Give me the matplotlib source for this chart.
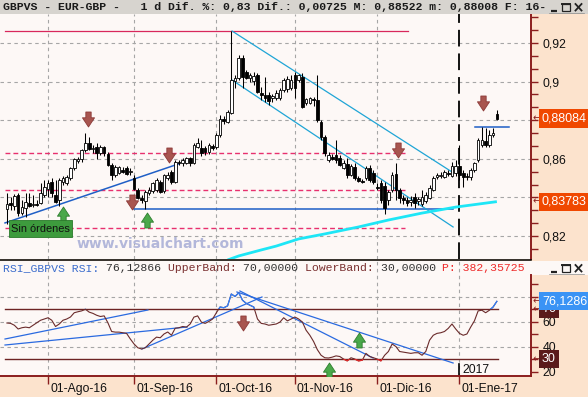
import numpy as np
import matplotlib
matplotlib.use("Agg")
import matplotlib.pyplot as plt
from matplotlib.patches import Rectangle
from matplotlib.path import Path
from matplotlib.ticker import FixedLocator, FuncFormatter, MultipleLocator
from matplotlib.transforms import blended_transform_factory, offset_copy

plt.rcParams['font.family'] = ['Liberation Sans', 'DejaVu Sans']
plt.rcParams['lines.scale_dashes'] = False

# ---------------- data (daily EUR-GBP bars, 15-Jul-2016 .. 16-Jan-2017) ----------------
opens = [.8340, .8371, .8356, .8413, .8319, .8345, .8371, .8361, .8366, .8371,
         .8413, .8444, .8480, .8413, .8387, .8480, .8475, .8501, .8552, .8589,
         .8599, .8646, .8682, .8651, .8661, .8630, .8661, .8625, .8568, .8516,
         .8527, .8542, .8552, .8532, .8501, .8439, .8397, .8381, .8423, .8433,
         .8439, .8480, .8433, .8501, .8532, .8480, .8584, .8578, .8578, .8604,
         .8578, .8661, .8656, .8656, .8635, .8666, .8661, .8723, .8806, .8791,
         .8837, .9003, .9019, .9122, .9050, .9019, .9003, .9034, .8941, .8931,
         .8931, .8915, .8915, .8915, .8957, .8962, .8967, .9034, .9008, .9024,
         .8889, .8889, .8910, .8905, .8791, .8713, .8594, .8609, .8620, .8604,
         .8552, .8573, .8516, .8558, .8501, .8485, .8501, .8552, .8527, .8454,
         .8475, .8459, .8387, .8439, .8521, .8439, .8397, .8387, .8376, .8402,
         .8381, .8366, .8381, .8397, .8439, .8506, .8511, .8506, .8527, .8511,
         .8527, .8563, .8527, .8511, .8506, .8542, .8594, .8672, .8692, .8672,
         .8723, .8832]
highs = [.8423, .8402, .8418, .8423, .8387, .8423, .8423, .8413, .8387, .8475,
         .8490, .8490, .8501, .8490, .8501, .8511, .8516, .8558, .8604, .8609,
         .8651, .8734, .8713, .8672, .8682, .8672, .8666, .8635, .8578, .8568,
         .8563, .8558, .8563, .8552, .8516, .8449, .8413, .8439, .8454, .8480,
         .8501, .8490, .8521, .8532, .8542, .8594, .8594, .8604, .8609, .8609,
         .8682, .8708, .8698, .8666, .8682, .8677, .8734, .8827, .8822, .8853,
         .9262, .9034, .9138, .9138, .9060, .9045, .9050, .9045, .8972, .9024,
         .8946, .8936, .8957, .8967, .9019, .9029, .9034, .9050, .9039, .9045,
         .8915, .8920, .8920, .9034, .8801, .8723, .8635, .8625, .8698, .8620,
         .8594, .8604, .8573, .8578, .8511, .8495, .8563, .8568, .8542, .8475,
         .8490, .8480, .8439, .8532, .8578, .8449, .8413, .8402, .8407, .8423,
         .8402, .8439, .8428, .8464, .8511, .8527, .8532, .8542, .8542, .8584,
         .8594, .8672, .8542, .8527, .8552, .8584, .8708, .8765, .8760, .8749,
         .8760, .88522]
lows = [.8262, .8335, .8335, .8304, .8309, .8299, .8350, .8350, .8356, .8366,
        .8402, .8402, .8402, .8371, .8356, .8464, .8464, .8490, .8542, .8578,
        .8584, .8635, .8646, .8630, .8599, .8620, .8615, .8563, .8490, .8506,
        .8521, .8527, .8516, .8516, .8439, .8392, .8371, .8340, .8413, .8423,
        .8428, .8423, .8423, .8490, .8470, .8475, .8568, .8563, .8573, .8563,
        .8573, .8656, .8615, .8620, .8625, .8646, .8651, .8713, .8780, .8786,
        .8832, .8967, .9008, .8967, .9013, .8998, .8982, .8941, .8905, .8894,
        .8879, .8894, .8905, .8905, .8946, .8946, .8957, .8915, .8998, .8863,
        .8879, .8884, .8874, .8791, .8698, .8615, .8584, .8594, .8578, .8563,
        .8547, .8501, .8511, .8490, .8480, .8475, .8490, .8480, .8470, .8439,
        .8371, .8314, .8361, .8428, .8387, .8371, .8366, .8356, .8356, .8345,
        .8361, .8356, .8371, .8392, .8433, .8495, .8501, .8501, .8511, .8506,
        .8511, .8490, .8454, .8490, .8490, .8532, .8584, .8661, .8661, .8661,
        .8713, .88008]
closes = [.8366, .8361, .8407, .8319, .8350, .8376, .8356, .8366, .8361, .8423,
          .8454, .8475, .8423, .8376, .8490, .8501, .8506, .8552, .8599, .8599,
          .8646, .8682, .8651, .8656, .8630, .8661, .8630, .8568, .8516, .8558,
          .8558, .8532, .8521, .8537, .8444, .8397, .8387, .8428, .8439, .8475,
          .8490, .8428, .8516, .8516, .8480, .8584, .8578, .8594, .8604, .8578,
          .8672, .8682, .8630, .8635, .8672, .8656, .8723, .8806, .8796, .8843,
          .9008, .9019, .9122, .9024, .9019, .9034, .9029, .8946, .8931, .8915,
          .8900, .8925, .8941, .8957, .9008, .9013, .9008, .8967, .9034, .8868,
          .8910, .8915, .8905, .8801, .8713, .8630, .8620, .8599, .8594, .8568,
          .8578, .8516, .8563, .8501, .8485, .8480, .8552, .8490, .8480, .8449,
          .8387, .8345, .8428, .8516, .8439, .8397, .8387, .8371, .8387, .8371,
          .8392, .8402, .8413, .8449, .8501, .8516, .8516, .8532, .8521, .8563,
          .8563, .8516, .8506, .8506, .8542, .8578, .8698, .8698, .8672, .8723,
          .87359, .88084]
rsi = [58.8, 58.5, 57, 54, 55, 55.5, 55, 57, 59, 61,
       62, 63, 61, 56, 58, 61, 62, 63.6, 67, 67.8,
       68.5, 69.8, 67.5, 66.5, 65, 64, 64.5, 59, 52, 51.5,
       51.5, 51, 50.5, 46, 42, 39, 38, 39, 42, 45,
       47.5, 47, 50, 51.6, 49, 54.6, 55, 56, 55.5, 58,
       63.5, 64.5, 59.5, 58.5, 60, 62, 67, 71.6, 71, 72.5,
       82, 80, 83, 77, 74.5, 73, 71.6, 62, 58.5, 58,
       57, 57.5, 58, 59.5, 63, 60.5, 62, 63.6, 62, 59.6,
       53, 49, 44, 37.5, 33, 31, 30.8, 31.5, 32.5, 32,
       30, 28.5, 31, 30, 28.5, 29, 34.5, 32, 31, 30,
       28.5, 33, 36, 42, 40, 36, 35.5, 35, 34.5, 35,
       35, 33, 36, 45, 49, 50.5, 51, 52, 54.5, 58,
       54, 50.5, 49, 50, 55.5, 60.5, 68.5, 69, 67, 69,
       71.6, 76.12866]
# long moving average (thick cyan), read at a few bars
ma_idx = [59, 62, 68, 72, 78, 85, 94, 102, 111, 120, 131]
ma_val = [0.8076, 0.8097, 0.8128, 0.8148, 0.8185, 0.8211, 0.8247, 0.8283, 0.8319, 0.8350, 0.83783]

month_idx = [11, 34, 56, 77, 99, 121]
month_labels = ['01-Ago-16', '01-Sep-16', '01-Oct-16', '01-Nov-16', '01-Dic-16', '01-Ene-17']
year_idx = 121
year_label = '2017'
price_ticks = [0.82, 0.84, 0.86, 0.88, 0.90, 0.92]
rsi_ticks = [20, 40, 60, 80]
rsi_minor = [30, 50, 70, 90]
rsi_grid = [40, 60, 80]
upper_band, lower_band = 70, 30

# user drawn objects on the price chart (bar index, price)
top_line_x, top_line_y = [-0.5, 107.2], [0.9262, 0.9262]
pink_x = [-0.5, 106.4]
pink_levels = [0.8630, 0.8439, 0.8242]
trend_up_x, trend_up_y = [-0.5, 45.8], [0.8268, 0.8573]
support_x, support_y = [34, 119.3], [0.8340, 0.8340]
resist_x, resist_y = [125.2, 134.3], [0.8765, 0.8765]
chan_up_x, chan_up_y = [60.2, 119.0], [0.9262, 0.8532]
chan_dn_x, chan_dn_y = [60.2, 119.3], [0.9008, 0.8247]
# signals
sell_x = [21.7, 33.5, 43.3, 104.6, 127.3]
sell_y = [0.8808, 0.8376, 0.8620, 0.8646, 0.8889]
buy_x = [15.0, 37.5]
buy_y = [0.8314, 0.8283]
rsi_sell_x, rsi_sell_y = [63.1], [58.8]
rsi_buy_x, rsi_buy_y = [86.1, 94.2], [21.2, 45.2]
# RSI trend lines
rsi_lines = [([-0.5, 37.7], [46.0, 69.2]),
             ([-0.5, 48.2], [41.2, 55.6]),
             ([36.1, 68.2], [38.0, 79.6]),
             ([61.5, 119.3], [83.6, 26.8]),
             ([62.3, 97.9], [84.4, 30.8])]
band_x = [-0.5, 131.3]
rsi_p_value = '382,35725'
date_text = '16-01-17'

# ---------------- figure ----------------
W, H = 588, 397
SALMON = '#fce3cd'
PLOT_BG = '#fdf8f6'
AXIS_RED = '#8b1e1e'
GRID = '#a6a6a6'
TITLE_BG = '#d7d4cf'
fig = plt.figure(figsize=(W / 100, H / 100), dpi=100, facecolor=SALMON)


def px_axes(x0, y0, x1, y1, **kw):
    return fig.add_axes([x0 / W, 1 - y1 / H, (x1 - x0) / W, (y1 - y0) / H], **kw)


def fmt(v, d):
    return f"{v:.{d}f}".replace('.', ',')


X0, X1 = -1.845, 140.13
ax = px_axes(0, 14, 531, 259, facecolor=PLOT_BG)
ax2 = px_axes(0, 261, 531, 376, facecolor=PLOT_BG)
ov = fig.add_axes([0, 0, 1, 1], zorder=10)
ov.set_xlim(0, W)
ov.set_ylim(H, 0)
ov.axis('off')
ov.patch.set_alpha(0)

price_boxes = [closes[-1], ma_val[-1]]
rsi_boxes = [upper_band, lower_band, rsi[-1]]

# ---- price panel ----
ax.set_xlim(X0, X1)
ax.set_ylim(0.80811, 0.93502)
for v in price_ticks:
    ax.axhline(v, color=GRID, lw=0.8, dashes=(2.5, 2.5), zorder=1)
for m in month_idx[:-1]:
    ax.axvline(m, color=GRID, lw=0.8, dashes=(2.5, 2.5), zorder=1)
ax.axvline(year_idx, color='black', lw=1.3, dashes=(12, 5), zorder=2)

ax.plot(top_line_x, top_line_y, color='#d8285c', lw=0.9, zorder=2)
for lv in pink_levels:
    ax.plot(pink_x, [lv, lv], color='#e8306e', lw=1.0, dashes=(3.5, 2.2), zorder=2)
ax.plot(trend_up_x, trend_up_y, color='#1f5fc6', lw=1.1, zorder=2)
ax.plot(support_x, support_y, color='#1f5fc6', lw=1.1, zorder=2)
ax.plot(resist_x, resist_y, color='#1f5fc6', lw=1.1, zorder=2)
ax.plot(chan_up_x, chan_up_y, color='#1fa5d6', lw=0.9, zorder=2)
ax.plot(chan_dn_x, chan_dn_y, color='#1fa5d6', lw=0.9, zorder=2)
ax.plot(ma_idx, ma_val, color='#1ee6f6', lw=2.0, zorder=2, solid_capstyle='butt')

o, hh, ll, c = map(np.array, (opens, highs, lows, closes))
xi = np.arange(len(c))
up = c >= o
ax.vlines(xi, ll, hh, color='black', lw=0.75, zorder=3)
ax.bar(xi, np.maximum(np.abs(c - o), 0.00025), bottom=np.minimum(o, c), width=0.72,
       color=np.where(up, 'white', 'black'), edgecolor='black', linewidth=0.6, zorder=4)

dv = [(-0.22, 0.62), (0.22, 0.62), (0.22, 0.14), (0.5, 0.14), (0.0, -0.62),
      (-0.5, 0.14), (-0.22, 0.14), (-0.22, 0.62)]
codes = [Path.MOVETO] + [Path.LINETO] * 6 + [Path.CLOSEPOLY]
DOWN = Path(dv, codes)
UP = Path([(x, -y) for x, y in dv], codes)
sell_style = dict(ls='none', marker=DOWN, ms=10.8, mfc='#a8554f', mec='#8c3a38', mew=0.6, zorder=6)
buy_style = dict(ls='none', marker=UP, ms=10.8, mfc='#4aa84a', mec='#2e7d2e', mew=0.6, zorder=6)
ax.plot(sell_x, sell_y, **sell_style)
ax.plot(buy_x, buy_y, **buy_style)


def price_label(v, p):
    # labels hidden under the value boxes are not visible in the original
    if min(abs(v - b) for b in price_boxes) < 0.005:
        return ''
    return ('%.2f' % v).rstrip('0').replace('.', ',')


def rsi_label(v, p):
    if min(abs(v - b) for b in rsi_boxes) < 5:
        return ''
    return '%d' % v


ax.yaxis.tick_right()
ax.yaxis.set_major_locator(FixedLocator(price_ticks))
ax.yaxis.set_minor_locator(MultipleLocator(0.02 / 3))
ax.yaxis.set_major_formatter(FuncFormatter(price_label))
ax.tick_params(axis='y', which='both', direction='out', length=5, width=1, color=AXIS_RED,
               labelsize=8.8, pad=3.5, labelcolor='#111111')
ax.tick_params(axis='x', which='both', bottom=False, labelbottom=False)
for s in ['top', 'left', 'bottom']:
    ax.spines[s].set_visible(False)
ax.spines['right'].set_color(AXIS_RED)
ax.spines['right'].set_linewidth(1.4)

trP = blended_transform_factory(ax.transAxes, ax.transData)
box_x = 542 / 531
arr_x = 533 / 531
for val in price_boxes:
    ax.text(arr_x, val, '←', transform=trP, fontsize=7, color=AXIS_RED, va='center', ha='left',
            family='DejaVu Sans', clip_on=False)
    ax.text(box_x, val, fmt(val, 5), transform=trP, fontsize=9, color='white', va='center', ha='left',
            clip_on=False, bbox=dict(boxstyle='square,pad=0.25', fc='#f04800', ec='none'))

# ---- RSI panel ----
ax2.set_xlim(X0, X1)
ax2.set_ylim(16.4, 108.4)
for v in rsi_grid:
    ax2.axhline(v, color=GRID, lw=0.8, dashes=(2.5, 2.5), zorder=1)
for m in month_idx:
    ax2.axvline(m, color=GRID, lw=0.8, dashes=(2.5, 2.5), zorder=1)
for b in [upper_band, lower_band]:
    ax2.plot(band_x, [b, b], color='#6e2424', lw=1.0, zorder=2)
for lx, ly in rsi_lines:
    ax2.plot(lx, ly, color='#2a6ae0', lw=0.9, zorder=3)
ax2.plot(xi, rsi, color='#6b2b2b', lw=0.8, zorder=4)
hi_clip = Rectangle((X0, upper_band), X1 - X0, 100, transform=ax2.transData)
lo_clip = Rectangle((X0, 0), X1 - X0, lower_band, transform=ax2.transData)
l_hi, = ax2.plot(xi, rsi, color='#2f80ff', lw=0.9, zorder=5)
l_hi.set_clip_path(hi_clip)
l_lo, = ax2.plot(xi, rsi, color='#e02828', lw=0.9, zorder=5)
l_lo.set_clip_path(lo_clip)
ax2.plot(rsi_sell_x, rsi_sell_y, **sell_style)
ax2.plot(rsi_buy_x, rsi_buy_y, **buy_style)

ax2.yaxis.tick_right()
ax2.yaxis.set_major_locator(FixedLocator(rsi_ticks))
ax2.yaxis.set_minor_locator(FixedLocator(rsi_minor))
ax2.yaxis.set_major_formatter(FuncFormatter(rsi_label))
ax2.tick_params(axis='y', which='both', direction='out', length=5, width=1, color=AXIS_RED,
                labelsize=8.8, pad=3.5, labelcolor='#111111')
ax2.set_xticks(month_idx)
ax2.tick_params(axis='x', which='both', direction='out', length=6, width=1, color=AXIS_RED,
                labelbottom=False)
for s in ['top', 'left', 'right']:
    ax2.spines[s].set_visible(False)
ax2.spines['bottom'].set_color(AXIS_RED)
ax2.spines['bottom'].set_linewidth(1.4)

trR = blended_transform_factory(ax2.transAxes, ax2.transData)
for val, txt, col in [(upper_band, str(upper_band), '#5a1a1a'), (lower_band, str(lower_band), '#5a1a1a'),
                      (rsi[-1], fmt(rsi[-1], 5)[:7], '#3a93f5')]:
    ax2.text(arr_x, val, '←', transform=trR, fontsize=7, color=AXIS_RED, va='center', ha='left',
             family='DejaVu Sans', clip_on=False)
    ax2.text(box_x, val, txt, transform=trR, fontsize=9, color='white', va='center', ha='left',
             clip_on=False, bbox=dict(boxstyle='square,pad=0.25', fc=col, ec='none'))

trD = blended_transform_factory(ax2.transData, ov.transData)
for m, lab in zip(month_idx, month_labels):
    ax2.text(m, 389, lab, transform=offset_copy(trD, fig=fig, x=2, y=0, units='dots'),
             fontsize=8.7, va='center', ha='left', color='#111111', clip_on=False)
ax2.text(year_idx, 370, year_label, transform=offset_copy(trD, fig=fig, x=3, y=0, units='dots'),
         fontsize=8.7, va='center', ha='left', color='#111111', clip_on=False)
ax2.plot([year_idx, year_idx], [364, 376], transform=trD, color='black', lw=1.2, clip_on=False)

# ---- overlay decorations (pixel coordinates) ----
ov.add_patch(Rectangle((0, 0), W, 14, fc=TITLE_BG, ec='none', zorder=1))
CW = 8.24 * 100 / 72 * 0.6
pct = (closes[-1] - closes[-2]) / closes[-2] * 100
dif = closes[-1] - closes[-2]
title = (f"GBPVS - EUR-GBP -   1 d Dif. %: {fmt(pct, 2)} Dif.: {fmt(dif, 5)} "
         f"M: {fmt(highs[-1], 5)} m: {fmt(lows[-1], 5)} F: {date_text}")
ov.text(3, 7, title, family='Liberation Mono', fontsize=8.24, fontweight='bold', color='#1a1a1a',
        va='center', ha='left', zorder=2)

ov.plot([0, 531], [260, 260], color='black', lw=1.1, zorder=2)
ov.add_patch(Rectangle((531, 260.6), W - 531, 14.4, fc=PLOT_BG, ec='none', zorder=1))
ov.plot([531, 531], [275, 376], color=AXIS_RED, lw=1.4, zorder=2)

segs = [("RSI_GBPVS RSI: ", '#3a6ccc'), (fmt(rsi[-1], 5) + " ", '#333333'),
        ("UpperBand: ", '#7a3030'), (fmt(upper_band, 5) + " ", '#333333'),
        ("LowerBand: ", '#7a3030'), (fmt(lower_band, 5) + " ", '#333333'),
        ("P: " + rsi_p_value, '#ee2a2a')]
pos = 0
for s, col in segs:
    ov.text(3 + pos * CW, 268, s, family='Liberation Mono', fontsize=8.24, color=col,
            va='center', ha='left', zorder=2)
    pos += len(s)


def buttons(y0, bg):
    ov.add_patch(Rectangle((546, y0 - 2), W - 546, 14, fc=bg, ec='none', zorder=5))
    # minimize
    ov.plot([551, 557], [y0 + 8.5, y0 + 8.5], color='#222222', lw=1.6, zorder=6, solid_capstyle='butt')
    # maximize
    ov.add_patch(Rectangle((562, y0 + 1.5), 8, 7.5, fc='none', ec='#222222', lw=0.9, zorder=6))
    ov.plot([562, 570], [y0 + 2.2, y0 + 2.2], color='#222222', lw=1.4, zorder=6)
    # close
    ov.plot([575.5, 581.5], [y0 + 2, y0 + 8.5], color='#222222', lw=1.3, zorder=6)
    ov.plot([575.5, 581.5], [y0 + 8.5, y0 + 2], color='#222222', lw=1.3, zorder=6)
    ov.plot([549, 584], [y0 + 10.5, y0 + 10.5], color='#888888', lw=0.5, zorder=6)


buttons(2, TITLE_BG)
buttons(263, PLOT_BG)

ov.add_patch(Rectangle((9, 220), 63, 17, fc='#3d9b3d', ec='#2a7a2a', lw=0.6, zorder=3))
ov.text(40.5, 228.8, 'Sin órdenes', fontsize=7.9, color='#101010', ha='center', va='center', zorder=4)
ov.text(160, 244, 'www.visualchart.com', color='#b3b7da', fontsize=10, family='DejaVu Sans',
        fontweight='bold', ha='center', va='center', zorder=3)

fig.savefig('out.png', dpi=100, facecolor=fig.get_facecolor())
